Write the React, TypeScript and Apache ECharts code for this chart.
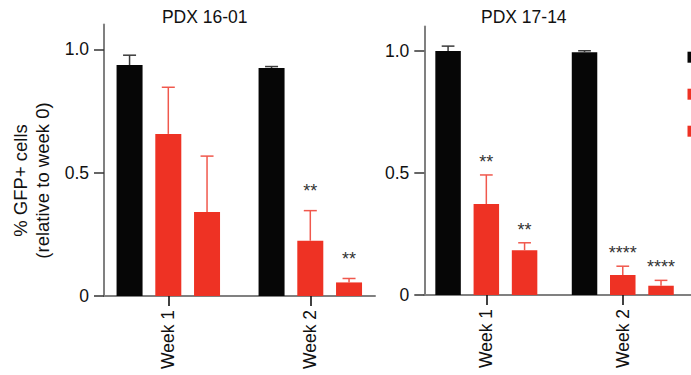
import React, { useEffect, useRef } from 'react';
import * as echarts from 'echarts';

const categories = ['Week 1', 'Week 2'];
const groupNames = ['Control', 'shRNA #1', 'shRNA #2'];
const panelTitles = ['PDX 16-01', 'PDX 17-14'];
const yTickValues = [0, 0.5, 1];
const yMax = 1.1;
const yAxisName = '% GFP+ cells\n(relative to week 0)';

// PDX 16-01
const p1601ControlMean = [0.936, 0.924];
const p1601ControlErr = [0.04, 0.006];
const p1601Sh1Mean = [0.657, 0.224];
const p1601Sh1Err = [0.189, 0.122];
const p1601Sh2Mean = [0.34, 0.055];
const p1601Sh2Err = [0.227, 0.016];
const p1601ControlStars = ['', ''];
const p1601Sh1Stars = ['', '**'];
const p1601Sh2Stars = ['', '**'];

// PDX 17-14
const p1714ControlMean = [1.0, 0.995];
const p1714ControlErr = [0.02, 0.006];
const p1714Sh1Mean = [0.373, 0.082];
const p1714Sh1Err = [0.119, 0.036];
const p1714Sh2Mean = [0.183, 0.038];
const p1714Sh2Err = [0.031, 0.022];
const p1714ControlStars = ['', ''];
const p1714Sh1Stars = ['**', '****'];
const p1714Sh2Stars = ['**', '****'];

const FONT = '"Liberation Sans", Arial, Helvetica, sans-serif';
const BLACK = '#060606';
const RED = '#ee3224';
const barColors = [BLACK, RED, RED];
const errColors = ['#3a3a3a', '#f0584d', '#f0584d'];

const panelData = [
  {
    means: [p1601ControlMean, p1601Sh1Mean, p1601Sh2Mean],
    errs: [p1601ControlErr, p1601Sh1Err, p1601Sh2Err],
    stars: [p1601ControlStars, p1601Sh1Stars, p1601Sh2Stars],
  },
  {
    means: [p1714ControlMean, p1714Sh1Mean, p1714Sh2Mean],
    errs: [p1714ControlErr, p1714Sh1Err, p1714Sh2Err],
    stars: [p1714ControlStars, p1714Sh1Stars, p1714Sh2Stars],
  },
];

const panelLayout = [
  {
    frame: { left: 104, top: 24.6, width: 271, height: 271.4 },
    bars: { left: 97.3, top: 24.6, width: 284, height: 271.4 },
    barWidth: 26,
    gapFrac: 0.49,
    starGap: 23.5,
    titleX: 204.7,
  },
  {
    frame: { left: 424.3, top: 26.6, width: 280, height: 268.4 },
    bars: { left: 418.1, top: 26.6, width: 280.8, height: 268.4 },
    barWidth: 25.5,
    gapFrac: 0.5,
    starGap: 17,
    titleX: 523.8,
  },
];

function buildOption() {
  const grids: any[] = [];
  const xAxes: any[] = [];
  const yAxes: any[] = [];
  const series: any[] = [];
  const graphics: any[] = [];

  panelLayout.forEach((pl, p) => {
    const gFrame = p * 2;
    const gBars = p * 2 + 1;
    grids.push({ ...pl.frame, containLabel: false });
    grids.push({ ...pl.bars, containLabel: false });

    // frame axes
    xAxes.push({
      type: 'value',
      gridIndex: gFrame,
      min: 0,
      max: 1,
      axisLine: { show: true, onZero: false, lineStyle: { color: '#808080', width: 2 } },
      axisTick: { show: false },
      axisLabel: { show: false },
      splitLine: { show: false },
    });
    yAxes.push({
      type: 'value',
      gridIndex: gFrame,
      min: 0,
      max: yMax,
      axisLine: { show: true, lineStyle: { color: '#808080', width: 2 } },
      axisTick: {
        show: true,
        length: 10,
        customValues: yTickValues,
        lineStyle: { color: '#333', width: 1.5 },
      },
      axisLabel: {
        show: true,
        margin: 15,
        customValues: yTickValues,
        fontSize: 17.5,
        color: '#111',
        fontFamily: FONT,
        formatter: (v: number) => (v === 0 ? '0' : v.toFixed(1)),
      },
      splitLine: { show: false },
    });

    // bars axes
    xAxes.push({
      type: 'category',
      gridIndex: gBars,
      data: categories,
      boundaryGap: true,
      axisLine: { show: true, lineStyle: { opacity: 0 } },
      axisTick: { show: true, alignWithLabel: true, length: 10, lineStyle: { color: '#111', width: 1.6 } },
      axisLabel: {
        rotate: 90,
        margin: 14,
        fontSize: 17.5,
        color: '#111',
        fontFamily: FONT,
      },
      splitLine: { show: false },
    });
    yAxes.push({
      type: 'value',
      gridIndex: gBars,
      min: 0,
      max: yMax,
      show: false,
    });

    const d = panelData[p];
    groupNames.forEach((name, s) => {
      series.push({
        type: 'bar',
        name,
        xAxisIndex: gBars,
        yAxisIndex: gBars,
        data: d.means[s],
        barWidth: pl.barWidth,
        barGap: Math.round(pl.gapFrac * 100) + '%',
        itemStyle: { color: barColors[s] },
        silent: true,
      });
    });

    const errData: number[][] = [];
    const starTexts: string[] = [];
    categories.forEach((_, c) => {
      groupNames.forEach((__, s) => {
        errData.push([c, s, d.means[s][c], d.errs[s][c]]);
        starTexts.push(d.stars[s][c]);
      });
    });
    const spacing = pl.barWidth * (1 + pl.gapFrac);
    const cap = pl.barWidth / 2;
    series.push({
      type: 'custom',
      name: 'err' + p,
      xAxisIndex: gBars,
      yAxisIndex: gBars,
      z: 5,
      silent: true,
      encode: { x: 0, y: 2 },
      data: errData,
      renderItem: (params: any, api: any) => {
        const c = api.value(0);
        const s = api.value(1);
        const mean = api.value(2);
        const err = api.value(3);
        const base = api.coord([c, mean]);
        const top = api.coord([c, mean + err]);
        const x = base[0] + (s - 1) * spacing;
        const yMean = base[1];
        const yTop = top[1];
        const color = errColors[s];
        const children: any[] = [
          {
            type: 'line',
            shape: { x1: x, y1: yMean, x2: x, y2: yTop },
            style: { stroke: color, lineWidth: 1.5 },
          },
          {
            type: 'line',
            shape: { x1: x - cap / 2, y1: yTop, x2: x + cap / 2, y2: yTop },
            style: { stroke: color, lineWidth: 1.5 },
          },
        ];
        const star = starTexts[params.dataIndex];
        if (star) {
          children.push({
            type: 'text',
            x,
            y: yTop - pl.starGap + 4,
            style: {
              text: star,
              align: 'center',
              verticalAlign: 'middle',
              textAlign: 'center',
              textVerticalAlign: 'middle',
              fontSize: 18,
              fontFamily: FONT,
              fill: '#333',
            },
          });
        }
        return { type: 'group', children };
      },
    });

    graphics.push({
      type: 'text',
      x: pl.titleX,
      y: 16.7,
      style: {
        text: panelTitles[p],
        align: 'center',
        verticalAlign: 'middle',
        textAlign: 'center',
        textVerticalAlign: 'middle',
        fontSize: 17.5,
        fontFamily: FONT,
        fill: '#111',
      },
    });
  });

  graphics.push({
    type: 'text',
    x: 31.7,
    y: 180.5,
    rotation: Math.PI / 2,
    style: {
      text: yAxisName,
      align: 'center',
      verticalAlign: 'middle',
      textAlign: 'center',
      textVerticalAlign: 'middle',
      fontSize: 18.5,
      lineHeight: 22,
      fontFamily: FONT,
      fill: '#111',
    },
  });

  return {
    animation: false,
    backgroundColor: '#ffffff',
    textStyle: { fontFamily: FONT },
    grid: grids,
    xAxis: xAxes,
    yAxis: yAxes,
    legend: {
      data: groupNames,
      orient: 'vertical',
      left: 687.5,
      top: 51.7,
      padding: 0,
      itemWidth: 11,
      itemHeight: 11,
      itemGap: 26,
      icon: 'rect',
      selectedMode: false,
      textStyle: { fontSize: 9 },
      formatter: () => '',
    },
    graphic: graphics,
    series,
  };
}

export default function App() {
  const ref = useRef<HTMLDivElement>(null);
  useEffect(() => {
    if (!ref.current) return;
    const chart = echarts.init(ref.current, undefined, { renderer: 'svg' });
    chart.setOption(buildOption() as any);
    return () => chart.dispose();
  }, []);
  return (
    <div
      ref={ref}
      style={{ position: 'fixed', left: 0, top: 0, width: 691, height: 375, background: '#fff' }}
    />
  );
}
